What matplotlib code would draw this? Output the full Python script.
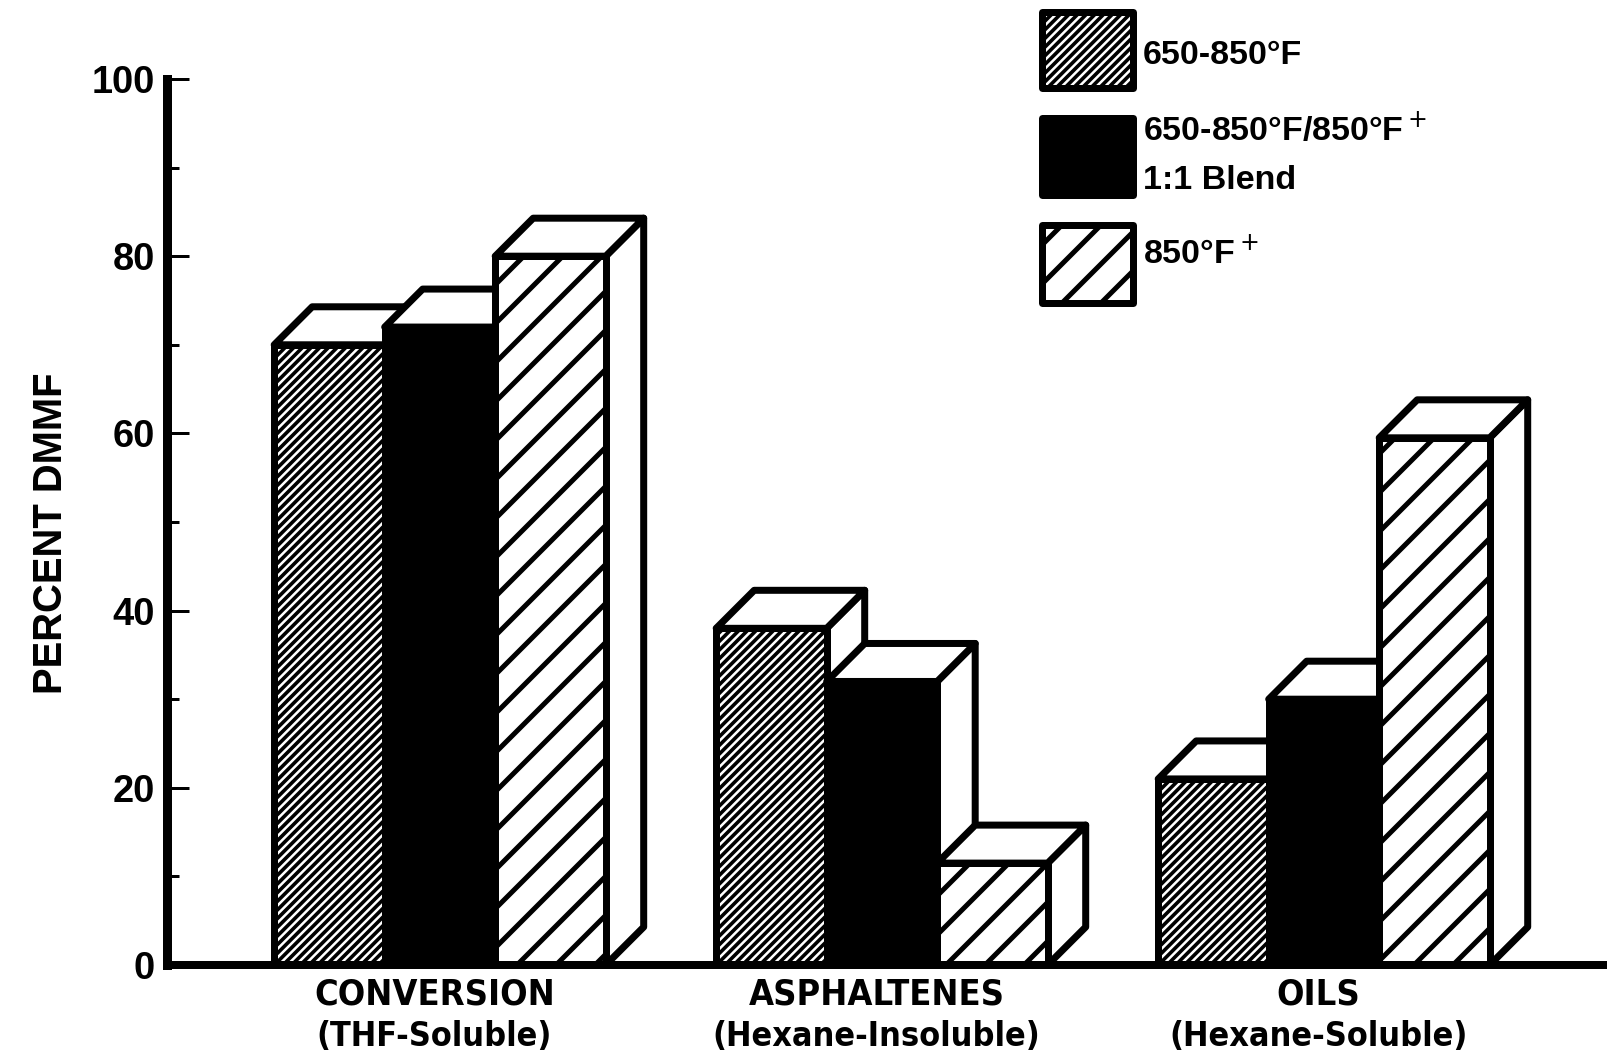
import matplotlib
matplotlib.use('Agg')
import matplotlib.pyplot as plt
from matplotlib.patches import Rectangle, Polygon
from matplotlib.ticker import MultipleLocator

DPI = 234
W, H = 1607, 1055


def pt(px):
    return px * 72.0 / DPI


# ---------------- data ----------------
categories = ['CONVERSION', 'ASPHALTENES', 'OILS']
subtitles = ['(THF-Soluble)', '(Hexane-Insoluble)', '(Hexane-Soluble)']
series_labels = ['650-850°F', '650-850°F/850°F$^+$\n1:1 Blend', '850°F$^+$']
v_650_850 = [70, 38, 21]
v_blend = [72, 32, 30]
v_850plus = [80, 11.5, 59.5]
yticks = [0, 20, 40, 60, 80, 100]
ylabel = 'PERCENT DMMF'

series = [v_650_850, v_blend, v_850plus]

# ---------------- style / layout ----------------
fills = ['white', 'black', 'white']
hatches = ['/' * 9, None, '//']
hatch_lw = [pt(3.6), pt(3), pt(5)]
LW = pt(7)

plt.rcParams['hatch.linewidth'] = pt(4)
plt.rcParams['font.family'] = ['Liberation Sans', 'DejaVu Sans']

fig = plt.figure(figsize=((W + 0.02) / DPI, (H + 0.02) / DPI), dpi=DPI)
ax_left, ax_bottom, ax_right, ax_top = 167, 965, 1607, 79
ax = fig.add_axes([ax_left / W, 1 - ax_bottom / H,
                   (ax_right - ax_left) / W, (ax_bottom - ax_top) / H])

unit_px = 110.5
xmax = (ax_right - ax_left) / unit_px
ax.set_xlim(0, xmax)
ax.set_ylim(0, 100)
px_per_y = (ax_bottom - ax_top) / 100.0

bar_w = 1.0
depth_px = 38
dx = depth_px / unit_px
dy = depth_px / px_per_y
group_left = [0.97 + 4.0 * g for g in range(len(categories))]

z = 1
for g in range(len(categories)):
    for i, vals in enumerate(series):
        v = vals[g]
        x0 = group_left[g] + i * bar_w
        front = Rectangle((x0, 0), bar_w, v, facecolor=fills[i], edgecolor='black',
                          linewidth=LW, hatch=hatches[i], joinstyle='round',
                          zorder=z, clip_on=False)
        if hasattr(front, 'set_hatch_linewidth'):
            front.set_hatch_linewidth(hatch_lw[i])
        top = Polygon([(x0, v), (x0 + bar_w, v), (x0 + bar_w + dx, v + dy), (x0 + dx, v + dy)],
                      closed=True, facecolor='white', edgecolor='black', linewidth=LW,
                      joinstyle='round', zorder=z, clip_on=False)
        side = Polygon([(x0 + bar_w, 0), (x0 + bar_w + dx, dy), (x0 + bar_w + dx, v + dy),
                        (x0 + bar_w, v)],
                       closed=True, facecolor='white', edgecolor='black', linewidth=LW,
                       joinstyle='round', zorder=z, clip_on=False)
        ax.add_patch(side)
        ax.add_patch(top)
        ax.add_patch(front)
        z += 1

# axes styling
for s in ['top', 'right']:
    ax.spines[s].set_visible(False)
ax.spines['left'].set_linewidth(pt(9))
ax.spines['bottom'].set_linewidth(pt(8))
ax.spines['left'].set_zorder(50)
ax.spines['bottom'].set_zorder(50)
ax.set_xticks([])
ax.set_yticks(yticks)
ax.set_yticklabels([str(t) for t in yticks], fontweight='bold')
ax.yaxis.set_minor_locator(MultipleLocator(10))
ax.tick_params(axis='y', which='major', direction='in', length=pt(22), width=pt(3),
               labelsize=pt(38), pad=pt(12))
ax.tick_params(axis='y', which='minor', direction='in', length=pt(12), width=pt(3))
ax.patch.set_alpha(0)

# category labels
for g in range(len(categories)):
    xc = group_left[g] + 1.45 * bar_w
    ax.text(xc, -(994 - ax_bottom) / px_per_y, categories[g], ha='center', va='center',
            fontsize=pt(36), fontweight='bold', family='DejaVu Sans',
            fontstretch='condensed', clip_on=False)
    ax.text(xc, -(1036 - ax_bottom) / px_per_y, subtitles[g], ha='center', va='center',
            fontsize=pt(34), fontweight='bold', family='DejaVu Sans',
            fontstretch='condensed', clip_on=False)

# y label
fig.text(51 / W, 1 - 533 / H, ylabel, rotation=90, ha='center', va='center',
         fontsize=pt(40), fontweight='bold')

# legend
leg_boxes = [(12, 88), (118, 195), (225, 303)]
leg_text_y = [55, 154, 253]
for i in range(len(series)):
    y_top, y_bot = leg_boxes[i]
    r = Rectangle((1042 / W, 1 - y_bot / H), 91 / W, (y_bot - y_top) / H,
                  transform=fig.transFigure, facecolor=fills[i], edgecolor='black',
                  linewidth=LW, hatch=hatches[i], joinstyle='round')
    if hasattr(r, 'set_hatch_linewidth'):
        r.set_hatch_linewidth(hatch_lw[i])
    fig.add_artist(r)
    fig.text(1143 / W, 1 - leg_text_y[i] / H, series_labels[i], ha='left', va='center',
             fontsize=pt(34), fontweight='bold', linespacing=1.7)

fig.savefig('out.png', dpi=DPI, facecolor='white')
